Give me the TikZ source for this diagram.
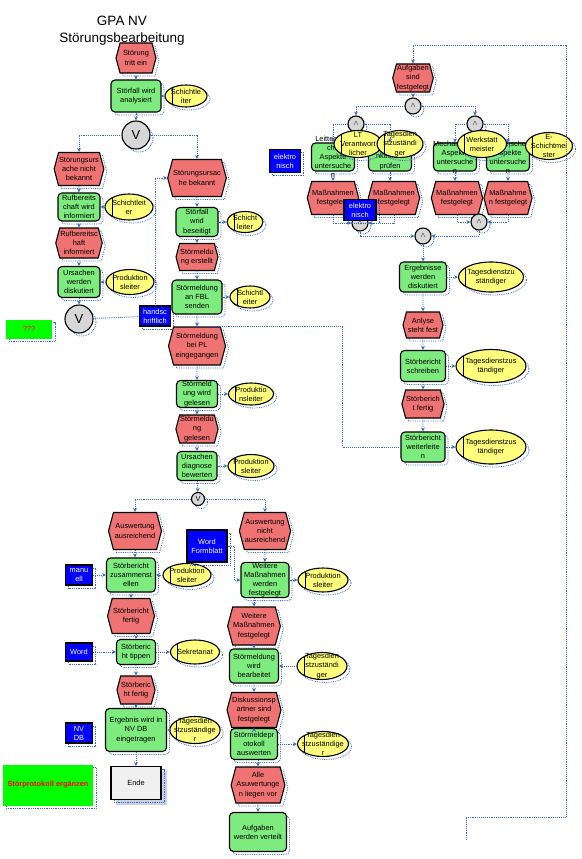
\documentclass[tikz,border=0pt]{standalone}
\usepackage{fontspec}
\setmainfont{Liberation Sans}
\usetikzlibrary{shapes.symbols, shapes.geometric, arrows.meta, shadows}

\definecolor{ereignisrot}{RGB}{240,115,115}
\definecolor{funktionsgruen}{RGB}{125,235,125}
\definecolor{stellengelb}{RGB}{255,255,125}
\definecolor{verbindungsblau}{RGB}{55,105,190}
\definecolor{anwendungsblau}{RGB}{0,0,255}
\definecolor{hellgrau}{RGB}{215,215,215}
\definecolor{endeblau}{RGB}{200,208,228}

\tikzset{
  schatten/.style={drop shadow={shadow xshift=3pt, shadow yshift=-3pt, fill=none, draw=verbindungsblau, densely dotted, line width=0.8pt, opacity=1}},
  ereignis/.style 2 args={signal, signal to=east and west, signal pointer angle=150, draw, line width=1.1pt, fill=ereignisrot, align=center, inner sep=0.5pt, minimum width=#1pt, minimum height=#2pt, schatten},
  funktion/.style 2 args={rectangle, rounded corners=4pt, draw, line width=1.1pt, fill=funktionsgruen, align=center, inner sep=0.5pt, minimum width=#1pt, minimum height=#2pt, schatten},
  stelle/.style 2 args={ellipse, draw, line width=1.1pt, fill=stellengelb, align=center, inner sep=-3pt, minimum width=#1pt, minimum height=#2pt, schatten,
    path picture={\draw[line width=1pt] ([xshift=7pt]path picture bounding box.north west) -- ([xshift=7pt]path picture bounding box.south west);}},
  anwendung/.style 2 args={rectangle, draw, line width=1.1pt, fill=anwendungsblau, text=white, align=center, inner sep=0.5pt, minimum width=#1pt, minimum height=#2pt, schatten},
  verkn/.style={circle, draw, line width=1.1pt, fill=hellgrau, inner sep=0pt, minimum size=#1pt, schatten},
  fluss/.style={draw=verbindungsblau, densely dotted, line width=0.9pt, -{Stealth[length=4pt, width=4pt]}},
  linie/.style={draw=verbindungsblau, densely dotted, line width=0.9pt}
}

\begin{document}
\begin{tikzpicture}[x=1pt, y=-1pt, every node/.style={font=\fontsize{7.4}{9.1}\selectfont}]
\useasboundingbox (0,0) rectangle (581,859);

% Titel
\node[font=\fontsize{13.5}{17}\selectfont, align=center] (titel) at (122,31) {GPA NV\\Störungsbearbeitung};

% Analyse der Störung
\node[ereignis={40}{30}] (E1) at (136,58) {Störung\\tritt ein};
\node[funktion={50}{32}] (F1) at (136,96) {Störfall wird\\analysiert};
\node[stelle={42}{22}] (O1) at (186,96) {Schichtle\\iter};
\node[verkn=28, font=\fontsize{13}{14}\selectfont] (X1) at (136,135) {V};

% Ursache nicht bekannt
\node[ereignis={44}{33}] (E2) at (79,169) {Störungsurs\\ache nicht\\bekannt};
\node[funktion={42}{28}] (F2) at (79,207) {Rufbereits\\chaft wird\\informiert};
\node[stelle={48}{26}] (O2) at (129,207) {Schichtleit\\er};
\node[ereignis={42}{30}] (E4) at (79,243) {Rufbereitsc\\haft\\informiert};
\node[funktion={42}{31}] (F3) at (79,282) {Ursachen\\werden\\diskutiert};
\node[stelle={48}{25}] (O3) at (130,282) {Produktion\\sleiter};
\node[verkn=28, font=\fontsize{13}{14}\selectfont] (X2) at (79,319) {V};
\node[rectangle, fill=green, text=red, minimum width=46pt, minimum height=19pt, schatten] (offen) at (29,329) {???};
\node[anwendung={31}{20}] (hand) at (155,316) {handsc\\hriftlich};

% Ursache bekannt
\node[ereignis={50}{37}] (E3) at (197,178) {Störungsursac\\he bekannt};
\node[funktion={42}{29}] (F4) at (197,222) {Störfall\\wrid\\beseitigt};
\node[stelle={36}{21}] (O4) at (245,222) {Schicht\\leiter};
\node[ereignis={40}{27}] (E5) at (197,257) {Störmeldu\\ng erstellt};
\node[funktion={50}{34}] (F5) at (197,297) {Störmeldung\\an FBL\\senden};
\node[stelle={40}{22}] (O5) at (250,297) {Schichtl\\eiter};

% Meldung beim PL
\node[ereignis={57}{38}] (E6) at (197,346) {Störmeldung\\bei PL\\eingegangen};
\node[funktion={41}{27}] (F6) at (197,394) {Störmeld\\ung wird\\gelesen};
\node[stelle={45}{22}] (O6) at (251,394) {Produktio\\nsleiter};
\node[ereignis={40}{28}] (E7) at (197,429) {Störmeldu\\ng\\gelesen};
\node[funktion={40}{29}] (F7) at (197,466) {Ursachen\\diagnose\\bewerten};
\node[stelle={46}{23}] (O7) at (251,466) {Produktion\\sleiter};
\node[verkn=13] (X3) at (198,499) {V};

% Auswertung ausreichend
\node[ereignis={53}{37}] (E8) at (135,531) {Auswertung\\ausreichend};
\node[anwendung={27}{20}] (manuell) at (79,575) {manu\\ell};
\node[funktion={49}{34}] (F8) at (131,575) {Störbericht\\zusammenst\\ellen};
\node[stelle={48}{23}] (O8) at (187,575) {Produktion\\sleiter};
\node[ereignis={47}{35}] (E10) at (131,616) {Störbericht\\fertig};
\node[anwendung={27}{18}] (word) at (79,652) {Word};
\node[funktion={39}{25}] (F10) at (136,652) {Störberic\\ht tippen};
\node[stelle={49}{24}] (O10) at (195,652) {Sekretariat};
\node[ereignis={37}{28}] (E12) at (136,690) {Störberic\\ht fertig};
\node[anwendung={27}{20}] (nvdb) at (79,733) {NV\\DB};
\node[funktion={61}{43}] (F12) at (136,730) {Ergebnis wird in\\NV DB\\eingetragen};
\node[stelle={50}{27}] (O12) at (195,730) {Tagesdien\\stzuständige\\r};
\node[rectangle, fill=green, text=red, font=\fontsize{7.4}{9.1}\selectfont\bfseries, minimum width=90pt, minimum height=41pt, schatten] (ergaenzen) at (48,785) {Störprotokoll ergänzen};
\node[rectangle, draw=endeblau, fill=endeblau, minimum width=50pt, minimum height=33pt] (EndeHinten) at (141,788) {};
\node[rectangle, draw, line width=1.1pt, fill=gray!12, minimum width=50pt, minimum height=33pt, schatten] (Ende) at (136,783) {Ende};

% Auswertung nicht ausreichend
\node[ereignis={49}{37}] (E9) at (265,531) {Auswertung\\nicht\\ausreichend};
\node[anwendung={40}{32}] (formblatt) at (207,546) {Word\\Formblatt};
\node[funktion={48}{34}] (F9) at (265,580) {Weitere\\Maßnahmen\\werden\\festgelegt};
\node[stelle={50}{24}] (O9) at (323,580) {Produktion\\sleiter};
\node[ereignis={52}{38}] (E11) at (254,626) {Weitere\\Maßnahmen\\festgelegt};
\node[funktion={49}{34}] (F11) at (254,666) {Störmeldung\\wird\\bearbeitet};
\node[stelle={50}{25}] (O11) at (322,666) {Tagesdien\\stzuständi\\ger};
\node[ereignis={50}{35}] (E13) at (254,710) {Diskussionsp\\artner sind\\festgelegt};
\node[funktion={47}{31}] (F13) at (254,744) {Störmeldepr\\otokoll\\auswerten};
\node[stelle={51}{25}] (O13) at (323,744) {Tagesdien\\stzuständige\\r};
\node[ereignis={52}{36}] (E14) at (258,785) {Alle\\Asuwertunge\\n liegen vor};
\node[funktion={57}{39}] (F14) at (258,832) {Aufgaben\\werden verteilt};

% Aufgaben festgelegt
\node[ereignis={40}{28}] (E15) at (413,78) {Aufgaben\\sind\\festgelegt};
\node[verkn=16] (A1) at (413,106) {$\wedge$};
\node[verkn=16] (A2) at (356,124) {$\wedge$};
\node[verkn=16] (A3) at (475,124) {$\wedge$};
\node[anwendung={31}{23}] (elektro1) at (285,161) {elektro\\nisch};
\node[funktion={43}{28}, label={[align=center]center:Leittechnis\\che\\Aspekte\\untersuche\\n}] (F15) at (333,157) {};
\node[funktion={43}{28}, label={[align=center]center:Schutzfu\\nktionen\\prüfen}] (F16) at (390,157) {};
\node[funktion={43}{28}, label={[align=center]center:Mechanische\\Aspekte\\untersuche\\n}] (F17) at (455,157) {};
\node[funktion={43}{28}, label={[align=center]center:Elektrische\\Aspekte\\untersuche\\n}] (F18) at (508,157) {};
\node[stelle={48}{27}] (O15) at (358,144) {LT\\Verantwort\\licher};
\node[stelle={46}{27}] (O16) at (400,144) {Tagesdien\\stzuständi\\ger};
\node[stelle={49}{27}] (O17) at (482,144) {Werkstatt\\meister};
\node[stelle={47}{27}] (O18) at (549,146) {E-\\Schichtmei\\ster};
\node[ereignis={50}{33}] (E16) at (333,198) {Maßnahmen\\festgelegt};
\node[ereignis={48}{33}] (E17) at (394,198) {Maßnahmen\\festgelegt};
\node[ereignis={50}{33}] (E18) at (457,198) {Maßnahmen\\festgelegt};
\node[ereignis={43}{33}] (E19) at (508,198) {Maßnahme\\n festgelegt};
\node[verkn=16] (A4) at (360,223) {$\wedge$};
\node[anwendung={32}{21}] (elektro2) at (360,210) {elektro\\nisch};
\node[verkn=16] (A5) at (479,222) {$\wedge$};
\node[verkn=16] (A6) at (423,236) {$\wedge$};

% Bericht
\node[funktion={47}{30}] (F19) at (423,277) {Ergebnisse\\werden\\diskutiert};
\node[stelle={65}{30}] (O19) at (491,277) {Tagesdienstzu\\ständiger};
\node[ereignis={40}{26}] (E20) at (423,325) {Anlyse\\steht fest};
\node[funktion={45}{31}] (F20) at (423,366) {Störbericht\\schreiben};
\node[stelle={70}{33}] (O20) at (491,366) {Tagesdienstzus\\tändiger};
\node[ereignis={40}{28}] (E21) at (423,404) {Störberich\\t fertig};
\node[funktion={44}{30}] (F21) at (423,447) {Störbericht\\weiterleite\\n};
\node[stelle={70}{34}] (O21) at (491,447) {Tagesdienstzus\\tändiger};

% Verbindungen links
\draw[fluss] (E1) -- (F1);
\draw[fluss] (F1) -- (O1);
\draw[fluss] (F1) -- (X1);
\draw[fluss] (X1.west) -| (E2.north);
\draw[fluss] (X1.east) -| (E3.north);
\draw[fluss] (E2) -- (F2);
\draw[fluss] (O2) -- (F2);
\draw[fluss] (F2) -- (E4);
\draw[fluss] (E4) -- (F3);
\draw[fluss] (O3) -- (F3);
\draw[fluss] (F3) -- (X2);
\draw[linie] (X2) -- (hand);
\draw[fluss] (hand.north) |- (E3.west);
\draw[fluss] (E3) -- (F4);
\draw[fluss] (F4) -- (O4);
\draw[fluss] (F4) -- (E5);
\draw[fluss] (E5) -- (F5);
\draw[fluss] (F5) -- (O5);
\draw[fluss] (F5) -- (E6);
\draw[fluss] (E6) -- (F6);
\draw[fluss] (F6) -- (O6);
\draw[fluss] (F6) -- (E7);
\draw[fluss] (E7) -- (F7);
\draw[fluss] (F7) -- (O7);
\draw[fluss] (F7) -- (X3);
\draw[fluss] (X3.west) -| (E8.north);
\draw[fluss] (X3.east) -| (E9.north);
\draw[fluss] (E8.south) -- (E8.south |- F8.north);
\draw[fluss] (manuell) -- (F8);
\draw[fluss] (O8) -- (F8);
\draw[fluss] (F8) -- (E10);
\draw[fluss] (E10.south -| F10.north) -- (F10.north);
\draw[fluss] (word) -- (F10);
\draw[fluss] (F10) -- (O10);
\draw[fluss] (F10) -- (E12);
\draw[fluss] (E12) -- (F12);
\draw[fluss] (O12) -- (F12);
\draw[fluss] (F12) -- (Ende);

% Verbindungen Mitte
\draw[fluss] (E9) -- (F9);
\draw[fluss] (formblatt.east) -- ++(7,0) |- (F9.west);
\draw[fluss] (F9) -- (O9);
\draw[fluss] (E11.north |- F9.south) -- (E11.north);
\draw[fluss] (E11) -- (F11);
\draw[fluss] (O11) -- (F11);
\draw[fluss] (F11) -- (E13);
\draw[fluss] (E13) -- (F13);
\draw[fluss] (F13) -- (O13);
\draw[fluss] (E14.north |- F13.south) -- (E14.north);
\draw[fluss] (E14) -- (F14);

% Verbindungen rechts
\coordinate (rueckAnfang) at (466,840);
\draw[fluss] (rueckAnfang) |- (566,817) -- (566,45) -| (E15.north);
\draw[fluss] (E15) -- (A1);
\draw[fluss] (A1.west) -| (A2.north);
\draw[fluss] (A1.east) -| (A3.north);
\draw[fluss] (A2.west) -| (F15.north);
\draw[fluss] (A2.east) -| (F16.north);
\draw[fluss] (A3.west) -| (F17.north);
\draw[fluss] (A3.east) -| (F18.north);
\draw[fluss] (F15) -- (E16);
\draw[fluss] (F16.south) -- (F16.south |- E17.north);
\draw[fluss] (F17.south) -- (F17.south |- E18.north);
\draw[fluss] (F18) -- (E19);
\draw[fluss] (E16.south) |- (A4.west);
\draw[fluss] (E17.south) |- (A4.east);
\draw[fluss] (E18.south) |- (A5.west);
\draw[fluss] (E19.south) |- (A5.east);
\draw[fluss] (A4.south) |- (A6.west);
\draw[fluss] (A5.south) |- (A6.east);
\draw[fluss] (A6) -- (F19);
\draw[fluss] (F19) -- (O19);
\draw[fluss] (F19) -- (E20);
\draw[fluss] (E20) -- (F20);
\draw[fluss] (F20) -- (O20);
\draw[fluss] (F20) -- (E21);
\draw[fluss] (E21) -- (F21);
\draw[fluss] (F21) -- (O21);
\draw[linie] (F21.west) -- ++(-58,0) |- (E6.north);
\end{tikzpicture}
\end{document}
